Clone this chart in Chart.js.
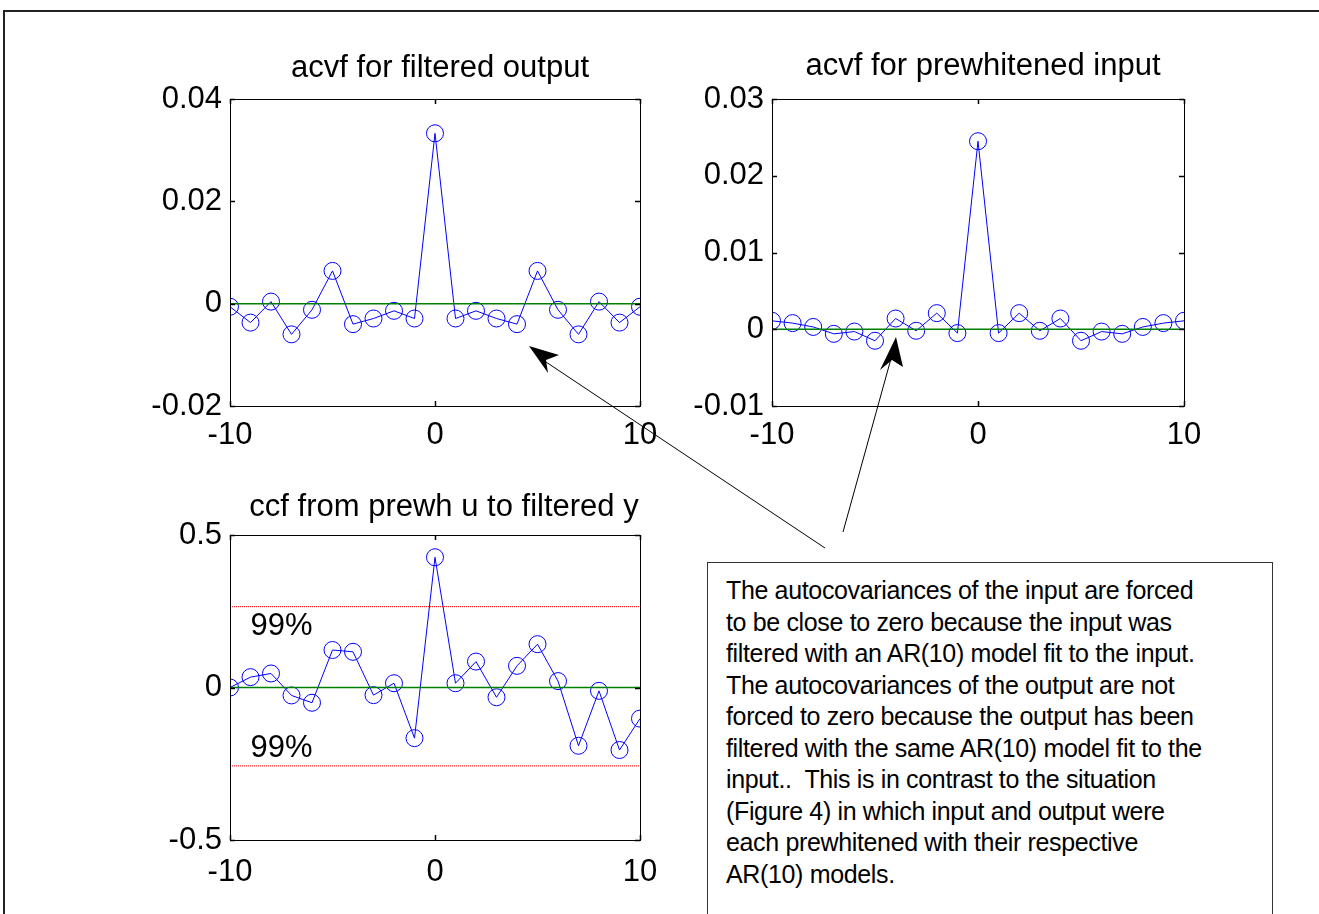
<!DOCTYPE html>
<html>
<head>
<meta charset="utf-8">
<script src="https://cdn.jsdelivr.net/npm/chart.js@4"></script>
<style>
  html, body { margin: 0; padding: 0; background: #fff; }
  body { width: 1319px; height: 914px; overflow: hidden; position: relative; font-family: "Liberation Sans", Arial, sans-serif; }
  .frame { position: absolute; left: 3px; top: 10px; width: 1400px; height: 1000px; border: 2px solid #222; }
  canvas { position: absolute; }
  #note { position: absolute; left: 707px; top: 562px; width: 546px; height: 400px; border: 1px solid #333; border-bottom: none;
          padding: 12px 0 0 18px; font-size: 25px; line-height: 31.5px; color: #000; letter-spacing: -0.35px; }
  svg { position: absolute; left: 0; top: 0; }
</style>
</head>
<body>
<div class="frame"></div>
<canvas id="c1"></canvas>
<canvas id="c2"></canvas>
<canvas id="c3"></canvas>
<div id="note">The autocovariances of the input are forced<br>to be close to zero because the input was<br>filtered with an AR(10) model fit to the input.<br>The autocovariances of the output are not<br>forced to zero because the output has been<br>filtered with the same AR(10) model fit to the<br>input..&nbsp; This is in contrast to the situation<br>(Figure 4) in which input and output were<br>each prewhitened with their respective<br>AR(10) models.</div>
<svg width="1319" height="914">
  <line x1="825" y1="548" x2="543" y2="360" stroke="#000" stroke-width="1"/>
  <polygon points="529,346 559,355 546,360 548,373" fill="#000"/>
  <line x1="843" y1="532" x2="892" y2="355" stroke="#000" stroke-width="1"/>
  <polygon points="896,337 903,367 892,360 880,370" fill="#000"/>
</svg>
<script>
const lags = [-10, -9, -8, -7, -6, -5, -4, -3, -2, -1, 0, 1, 2, 3, 4, 5, 6, 7, 8, 9, 10];

const acvfOutput = [-0.0006, -0.0037, 0.0004, -0.0060, -0.0012, 0.0064, -0.0040, -0.0029, -0.0014, -0.0029, 0.0333,
  -0.0029, -0.0014, -0.0029, -0.0040, 0.0064, -0.0012, -0.0060, 0.0004, -0.0037, -0.0006];

const acvfInput = [0.0011, 0.0008, 0.0003, -0.0006, -0.0003, -0.0015, 0.0014, -0.0002, 0.0021, -0.0005, 0.0245,
  -0.0005, 0.0021, -0.0002, 0.0014, -0.0015, -0.0003, -0.0006, 0.0003, 0.0008, 0.0011];

const ccfUY = [0.000, 0.034, 0.046, -0.026, -0.050, 0.123, 0.117, -0.025, 0.014, -0.166, 0.427,
  0.014, 0.085, -0.032, 0.071, 0.142, 0.021, -0.191, -0.011, -0.205, -0.102];

const xTicks = [-10, 0, 10];
const yTicks1 = [-0.02, 0, 0.02, 0.04];
const yTicks2 = [-0.01, 0, 0.01, 0.02, 0.03];
const yTicks3 = [-0.5, 0, 0.5];

const confUpper = 0.265;
const confLower = -0.257;
const confLabel = '99%';
const confLabelX = -9;
const confLabelY = [0.2, -0.2];

const titles = ['acvf for filtered output', 'acvf for prewhitened input', 'ccf from prewh u to filtered y'];

const FONT = '"Liberation Sans", Arial, sans-serif';
const FSIZE = 31;

const pts = (ys) => lags.map((x, i) => ({ x, y: ys[i] }));
const hline = (v) => [{ x: lags[0], y: v }, { x: lags[lags.length - 1], y: v }];
const fmt = (v) => String(+Number(v).toFixed(4));

// box, inward ticks, title, extra labels
const framePlugin = {
  id: 'frame',
  afterDraw(chart) {
    const { ctx, chartArea: a, scales } = chart;
    const o = chart.options.plugins.frame;
    ctx.save();
    ctx.strokeStyle = '#000';
    ctx.lineWidth = 1;
    ctx.strokeRect(Math.round(a.left) + 0.5, Math.round(a.top) + 0.5, Math.round(a.width), Math.round(a.height));
    ctx.lineWidth = 1.5;
    ctx.beginPath();
    scales.x.ticks.forEach(t => {
      const px = Math.round(scales.x.getPixelForValue(t.value)) + 0.5;
      ctx.moveTo(px, a.bottom); ctx.lineTo(px, a.bottom - 5);
      ctx.moveTo(px, a.top); ctx.lineTo(px, a.top + 5);
    });
    scales.y.ticks.forEach(t => {
      const py = Math.round(scales.y.getPixelForValue(t.value)) + 0.5;
      ctx.moveTo(a.left, py); ctx.lineTo(a.left + 5, py);
      ctx.moveTo(a.right, py); ctx.lineTo(a.right - 5, py);
    });
    ctx.stroke();
    ctx.fillStyle = '#000';
    ctx.font = FSIZE + 'px ' + FONT;
    ctx.textAlign = 'center';
    ctx.textBaseline = 'middle';
    ctx.fillText(o.title, (a.left + a.right) / 2 + o.titleDx, a.top + o.titleDy);
    if (o.labels) {
      ctx.textAlign = 'left';
      o.labels.forEach(y => {
        ctx.fillText(confLabel, scales.x.getPixelForValue(confLabelX), scales.y.getPixelForValue(y));
      });
    }
    ctx.restore();
  }
};

function makeChart(id, pos, datasets, yTicks, frame) {
  const cv = document.getElementById(id);
  cv.style.left = pos.left + 'px';
  cv.style.top = pos.top + 'px';
  cv.style.width = pos.w + 'px';
  cv.style.height = pos.h + 'px';
  cv.width = pos.w;
  cv.height = pos.h;
  return new Chart(cv, {
    type: 'line',
    data: { datasets },
    options: {
      responsive: false,
      animation: false,
      events: [],
      layout: { padding: { left: 0, right: pos.padRight, top: pos.padTop, bottom: 0 } },
      plugins: { legend: { display: false }, tooltip: { enabled: false }, frame },
      scales: {
        x: {
          type: 'linear', min: -10, max: 10,
          grid: { display: false }, border: { display: false },
          afterBuildTicks: s => { s.ticks = xTicks.map(value => ({ value })); },
          afterFit: s => { s.height = pos.xH; },
          ticks: { color: '#000', font: { family: FONT, size: FSIZE }, padding: pos.xPad, maxRotation: 0, autoSkip: false, callback: fmt }
        },
        y: {
          min: yTicks[0], max: yTicks[yTicks.length - 1],
          grid: { display: false }, border: { display: false },
          afterBuildTicks: s => { s.ticks = yTicks.map(value => ({ value })); },
          afterFit: s => { s.width = pos.yW; },
          ticks: { color: '#000', font: { family: FONT, size: FSIZE }, padding: 0, autoSkip: false, callback: fmt }
        }
      }
    },
    plugins: [framePlugin]
  });
}

const seriesStyle = {
  borderColor: '#0000ff', borderWidth: 1, pointRadius: 8.5, pointBorderWidth: 1,
  pointBorderColor: '#0000ff', pointBackgroundColor: 'rgba(0,0,0,0)', fill: false, tension: 0
};
const zeroStyle = { borderColor: '#008000', borderWidth: 1.5, pointRadius: 0, fill: false };
const confStyle = { borderColor: '#ff0000', borderWidth: 1, borderDash: [1, 1], pointRadius: 0, fill: false };

makeChart('c1', { left: 120, top: 40, w: 560, h: 420, padTop: 59, padRight: 40, yW: 110, xH: 54, xPad: 3 },
  [{ data: hline(0), ...zeroStyle }, { data: pts(acvfOutput), ...seriesStyle }],
  yTicks1, { title: titles[0], titleDx: 5, titleDy: -31 });

makeChart('c2', { left: 662, top: 40, w: 560, h: 420, padTop: 59, padRight: 38, yW: 110, xH: 54, xPad: 3 },
  [{ data: hline(0), ...zeroStyle }, { data: pts(acvfInput), ...seriesStyle }],
  yTicks2, { title: titles[1], titleDx: 5, titleDy: -33 });

makeChart('c3', { left: 120, top: 470, w: 560, h: 430, padTop: 65, padRight: 40, yW: 110, xH: 60, xPad: 6 },
  [{ data: hline(0), ...zeroStyle }, { data: hline(confUpper), ...confStyle }, { data: hline(confLower), ...confStyle },
   { data: pts(ccfUY), ...seriesStyle }],
  yTicks3, { title: titles[2], titleDx: 9, titleDy: -28, labels: confLabelY });
</script>
</body>
</html>
